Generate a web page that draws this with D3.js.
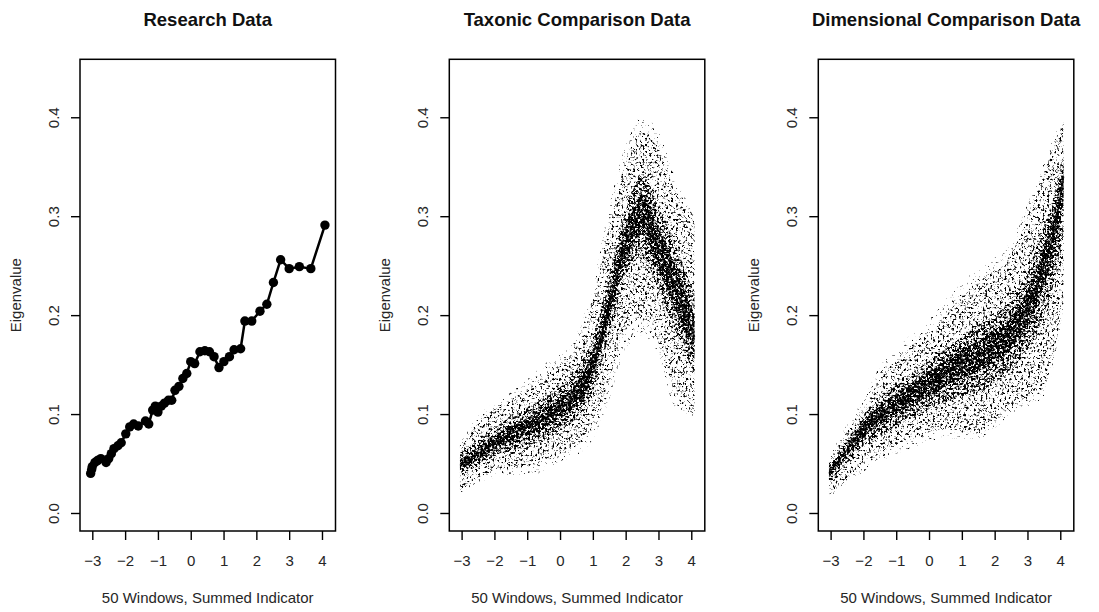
<!DOCTYPE html>
<html>
<head>
<meta charset="utf-8">
<script src="https://cdn.jsdelivr.net/npm/d3@7"></script>
<style>
  html, body { margin: 0; padding: 0; background: #fff; }
  svg { display: block; font-family: "Liberation Sans", Arial, Helvetica, sans-serif; }
</style>
</head>
<body>
<svg id="chart" width="1099" height="612"></svg>
<script>
// ---- Research data: eigenvalue per window (50 windows) ----
const researchX = [-3.05,-3.02,-3.00,-2.92,-2.84,-2.74,-2.58,-2.50,-2.42,-2.34,
  -2.22,-2.12,-1.98,-1.86,-1.74,-1.60,-1.38,-1.28,-1.16,-1.08,
  -1.00,-0.90,-0.80,-0.68,-0.58,-0.48,-0.36,-0.24,-0.12,0.00,
  0.12,0.28,0.43,0.57,0.71,0.86,1.01,1.18,1.32,1.52,
  1.65,1.86,2.11,2.32,2.52,2.74,3.00,3.31,3.66,4.09];
const researchY = [0.040,0.044,0.047,0.051,0.053,0.055,0.051,0.055,0.060,0.065,
  0.068,0.071,0.080,0.087,0.090,0.088,0.093,0.090,0.104,0.108,
  0.102,0.108,0.111,0.114,0.114,0.124,0.128,0.136,0.141,0.153,
  0.151,0.163,0.164,0.163,0.158,0.147,0.153,0.158,0.165,0.166,
  0.194,0.194,0.204,0.211,0.233,0.256,0.247,0.249,0.247,0.291];

// ---- Taxonic comparison data: median and nested spread bands of the simulated samples ----
const taxX    = [-3.05,-2.5,-2,-1.5,-1,-0.5,0,0.5,1,1.5,2,2.5,3,3.5,4.1];
const taxMed  = [0.048,0.060,0.071,0.080,0.087,0.095,0.105,0.120,0.150,0.210,0.272,0.302,0.267,0.228,0.178];
const taxLo0  = [0.020,0.030,0.036,0.038,0.038,0.042,0.052,0.058,0.075,0.115,0.165,0.180,0.160,0.108,0.098];
const taxHi0  = [0.070,0.098,0.112,0.122,0.135,0.150,0.160,0.180,0.230,0.310,0.372,0.400,0.385,0.340,0.305];
const taxLo1  = [0.022,0.036,0.042,0.045,0.047,0.052,0.060,0.068,0.088,0.135,0.185,0.195,0.172,0.122,0.100];
const taxHi1  = [0.068,0.090,0.105,0.115,0.125,0.138,0.150,0.168,0.215,0.290,0.355,0.385,0.370,0.325,0.300];
const taxLo2  = [0.037,0.048,0.057,0.063,0.068,0.074,0.083,0.096,0.123,0.180,0.238,0.260,0.225,0.185,0.140];
const taxHi2  = [0.059,0.073,0.086,0.097,0.106,0.116,0.127,0.145,0.178,0.240,0.305,0.343,0.310,0.272,0.220];
const taxLo3  = [0.043,0.054,0.064,0.072,0.078,0.085,0.095,0.109,0.137,0.196,0.256,0.282,0.247,0.207,0.160];
const taxHi3  = [0.054,0.066,0.078,0.088,0.096,0.105,0.116,0.132,0.164,0.225,0.289,0.322,0.289,0.250,0.198];

// ---- Dimensional comparison data ----
const dimX    = [-3.05,-2.5,-2,-1.5,-1,-0.5,0,0.5,1,1.5,2,2.5,3,3.5,3.8,4.1];
const dimMed  = [0.040,0.064,0.085,0.099,0.111,0.121,0.131,0.142,0.151,0.159,0.170,0.183,0.208,0.250,0.283,0.340];
const dimLo0  = [0.016,0.030,0.042,0.052,0.060,0.066,0.072,0.076,0.075,0.075,0.085,0.100,0.108,0.118,0.150,0.210];
const dimHi0  = [0.055,0.090,0.115,0.148,0.165,0.182,0.195,0.215,0.235,0.245,0.258,0.275,0.312,0.355,0.380,0.398];
const dimLo1  = [0.018,0.036,0.050,0.060,0.068,0.075,0.082,0.085,0.083,0.080,0.092,0.108,0.115,0.128,0.160,0.220];
const dimHi1  = [0.052,0.082,0.105,0.135,0.155,0.170,0.182,0.200,0.218,0.235,0.245,0.262,0.300,0.345,0.370,0.395];
const dimLo2  = [0.030,0.051,0.068,0.078,0.088,0.097,0.105,0.113,0.118,0.122,0.132,0.145,0.165,0.200,0.232,0.285];
const dimHi2  = [0.048,0.074,0.098,0.116,0.130,0.142,0.154,0.166,0.178,0.190,0.200,0.215,0.245,0.290,0.320,0.365];
const dimLo3  = [0.035,0.058,0.077,0.089,0.100,0.109,0.118,0.128,0.136,0.143,0.153,0.166,0.190,0.230,0.262,0.318];
const dimHi3  = [0.045,0.069,0.092,0.108,0.121,0.132,0.143,0.155,0.165,0.174,0.185,0.198,0.225,0.268,0.300,0.355];

// ---- Axis ticks and labels ----
const xTicks = [-3,-2,-1,0,1,2,3,4];
const yTicks = [0.0,0.1,0.2,0.3,0.4];
const panelTitles = ["Research Data","Taxonic Comparison Data","Dimensional Comparison Data"];
const xTitle = "50 Windows, Summed Indicator";
const yTitle = "Eigenvalue";

// ---- Layout ----
const svg = d3.select("#chart");
svg.append("rect").attr("width",1099).attr("height",612).attr("fill","#fff");

const panelLeft = [80, 449.3, 818.3];
const panelW = 255.5, plotTop = 59.3, plotBottom = 531;
const xDomain = [-3.375, 4.412], yDomain = [-0.0182, 0.4586];

// speckle textures used to render the dense clouds of simulated points
const defs = svg.append("defs");
function speckle(id, seed, freq, thr, maxA) {
  const f = defs.append("filter").attr("id", id)
    .attr("x","-5%").attr("y","-5%").attr("width","110%").attr("height","110%")
    .attr("color-interpolation-filters","sRGB");
  f.append("feTurbulence").attr("type","fractalNoise").attr("baseFrequency",freq)
    .attr("numOctaves",2).attr("seed",seed).attr("result","n");
  const k = 9;
  f.append("feColorMatrix").attr("in","n").attr("type","matrix")
    .attr("values",`0 0 0 0 0  0 0 0 0 0  0 0 0 0 0  ${k*maxA} 0 0 0 ${-k*thr*maxA}`)
    .attr("result","a");
  f.append("feComposite").attr("in","a").attr("in2","SourceGraphic").attr("operator","in");
}
speckle("spk0", 7, 0.42, 0.64, 0.8);
speckle("spk1", 3, 0.42, 0.57, 0.85);
speckle("spk2", 11, 0.42, 0.49, 0.9);
speckle("spk3", 29, 0.42, 0.42, 0.95);

const textCol = "#262626";

function framePanel(i) {
  const L = panelLeft[i];
  const x = d3.scaleLinear().domain(xDomain).range([L, L + panelW]);
  const y = d3.scaleLinear().domain(yDomain).range([plotBottom, plotTop]);
  const g = svg.append("g");

  // x axis
  const xa = g.append("g").attr("transform", `translate(0,${plotBottom})`)
    .call(d3.axisBottom(x).tickValues(xTicks).tickSize(9).tickPadding(15.5)
      .tickFormat(d => d < 0 ? "\u2212" + Math.abs(d) : String(d)));
  xa.select(".domain").remove();
  xa.selectAll("line").attr("stroke","#000").attr("stroke-width",1.4);
  xa.selectAll("text").attr("font-size",15).attr("fill",textCol)
    .attr("font-family","Liberation Sans, Arial, sans-serif");

  // y axis with labels parallel to the axis
  const ya = g.append("g").attr("transform", `translate(${L},0)`)
    .call(d3.axisLeft(y).tickValues(yTicks).tickSize(9).tickFormat(d3.format(".1f")));
  ya.select(".domain").remove();
  ya.selectAll("line").attr("stroke","#000").attr("stroke-width",1.4);
  ya.selectAll("text").attr("font-size",15).attr("fill",textCol)
    .attr("font-family","Liberation Sans, Arial, sans-serif")
    .attr("transform","rotate(-90)").attr("x",0).attr("y",-21).attr("dy",0)
    .attr("text-anchor","middle");

  // titles
  svg.append("text").attr("x", L + panelW/2).attr("y", 26).attr("text-anchor","middle")
    .attr("font-size",18.5).attr("font-weight","bold").attr("fill","#111").text(panelTitles[i]);
  svg.append("text").attr("x", L + panelW/2).attr("y", plotBottom + 71.5).attr("text-anchor","middle")
    .attr("font-size",15).attr("fill",textCol).text(xTitle);
  svg.append("text")
    .attr("transform", `translate(${L - 59.5},${(plotTop + plotBottom)/2}) rotate(-90)`)
    .attr("text-anchor","middle").attr("font-size",15).attr("fill",textCol).text(yTitle);

  return {g, x, y, L};
}

function drawBox(p) {
  svg.append("rect").attr("x", p.L).attr("y", plotTop).attr("width", panelW).attr("height", plotBottom - plotTop)
    .attr("fill","none").attr("stroke","#000").attr("stroke-width",1.5);
}

// Panel 1: research curve
{
  const p = framePanel(0);
  const pts = researchX.map((v, j) => [v, researchY[j]]);
  p.g.append("path").datum(pts)
    .attr("d", d3.line().x(d => p.x(d[0])).y(d => p.y(d[1])))
    .attr("fill","none").attr("stroke","#000").attr("stroke-width",2.5);
  p.g.selectAll("circle").data(pts).join("circle")
    .attr("cx", d => p.x(d[0])).attr("cy", d => p.y(d[1])).attr("r", 4.7).attr("fill","#000");
  drawBox(p);
}

// Panels 2 and 3: comparison clouds, from the widest (sparsest) band to the core
function cloudPanel(i, xs, med, bands) {
  const p = framePanel(i);
  const filters = ["spk0","spk1","spk2","spk3"];
  bands.forEach((b, k) => {
    const rows = xs.map((v, j) => ({x: v, lo: b[0][j], hi: b[1][j]}));
    const area = d3.area().curve(d3.curveMonotoneX)
      .x(d => p.x(d.x)).y0(d => p.y(d.lo)).y1(d => p.y(d.hi));
    p.g.append("path").datum(rows).attr("d", area)
      .attr("fill","#000").attr("filter", `url(#${filters[k]})`);
  });
  const line = d3.line().curve(d3.curveMonotoneX).x((d, j) => p.x(xs[j])).y(d => p.y(d));
  p.g.append("path").datum(med).attr("d", line)
    .attr("fill","none").attr("stroke","#000").attr("stroke-width",1.6).attr("stroke-opacity",0.8);
  drawBox(p);
}

cloudPanel(1, taxX, taxMed, [[taxLo0, taxHi0],[taxLo1, taxHi1],[taxLo2, taxHi2],[taxLo3, taxHi3]]);
cloudPanel(2, dimX, dimMed, [[dimLo0, dimHi0],[dimLo1, dimHi1],[dimLo2, dimHi2],[dimLo3, dimHi3]]);
</script>
</body>
</html>
